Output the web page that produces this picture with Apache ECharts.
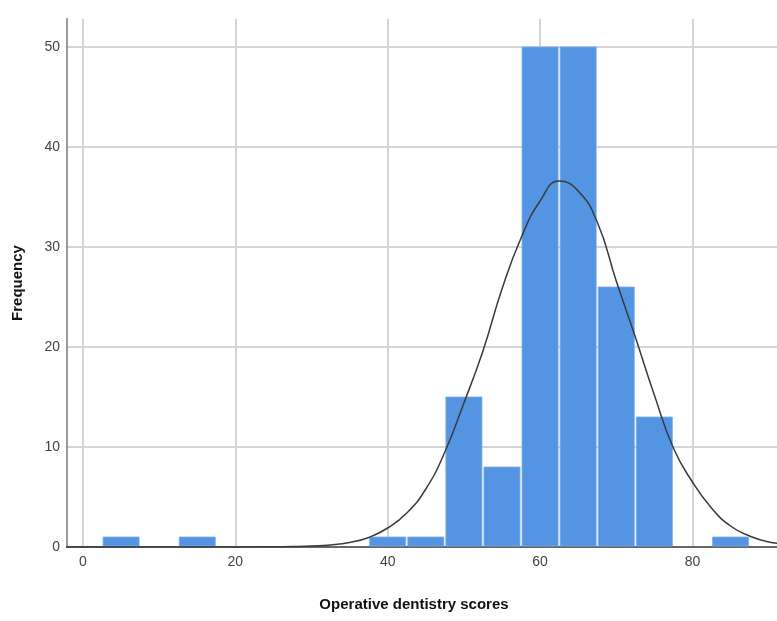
<!DOCTYPE html>
<html>
<head>
<meta charset="utf-8">
<script src="https://cdn.jsdelivr.net/npm/echarts@6/dist/echarts.min.js"></script>
<style>
  html, body { margin: 0; padding: 0; background: #ffffff; }
  #chart { width: 777px; height: 621px; }
</style>
</head>
<body>
<div id="chart"></div>
<script>
// Histogram bins (left edges) and counts
const binStarts = [2.5, 12.5, 37.5, 42.5, 47.5, 52.5, 57.5, 62.5, 67.5, 72.5, 82.5];
const frequencies = [1, 1, 1, 1, 15, 8, 50, 50, 26, 13, 1];
const binWidth = 5;

// Normal curve points (every 2.5 units)
const curveX = [-2.5, 0, 2.5, 5, 7.5, 10, 12.5, 15, 17.5, 20, 22.5, 25, 27.5, 30, 32.5, 35, 37.5, 40, 42.5, 45, 47.5, 50, 52.5, 55, 57.5, 60, 62.5, 65, 67.5, 70, 72.5, 75, 77.5, 80, 82.5, 85, 87.5, 90, 92.5];
const curveY = [0, 0, 0, 0, 0, 0, 0, 0, 0, 0, 0.01, 0.02, 0.05, 0.1, 0.2, 0.45, 0.95, 1.9, 3.4, 5.8, 9.5, 14.4, 19.6, 25.8, 30.9, 34.6, 36.6, 35.6, 32.5, 26.6, 21.0, 15.2, 9.9, 6.5, 3.9, 2.1, 1.1, 0.5, 0.3];

// Tick labels
const xTicks = [0, 20, 40, 60, 80];
const yTicks = [0, 10, 20, 30, 40, 50];

const barData = binStarts.map((s, i) => [s, s + binWidth, frequencies[i]]);
const curveData = curveX.map((x, i) => [x, curveY[i]]);

const chart = echarts.init(document.getElementById('chart'), null, { renderer: 'canvas' });

const labelFont = { fontFamily: 'Liberation Sans, Arial, sans-serif', fontSize: 14, color: '#444' };

chart.setOption({
  animation: false,
  backgroundColor: '#ffffff',
  grid: { left: 67, top: 19, right: 0, bottom: 74, containLabel: false },
  xAxis: {
    type: 'value',
    min: -2.1,
    max: 91.1,
    name: 'Operative dentistry scores',
    nameLocation: 'middle',
    nameGap: 50,
    nameTextStyle: { fontFamily: 'Liberation Sans, Arial, sans-serif', fontSize: 15, fontWeight: 'bold', color: '#111', padding: [0, 16, 0, 0] },
    axisLine: { show: true, onZero: false, lineStyle: { color: '#666', width: 2 } },
    axisTick: { show: false, customValues: xTicks },
    axisLabel: Object.assign({ customValues: xTicks, margin: 8 }, labelFont),
    splitLine: { show: true, lineStyle: { color: '#d4d4d4', width: 2 } }
  },
  yAxis: {
    type: 'value',
    min: 0,
    max: 52.8,
    name: 'Frequency',
    nameLocation: 'middle',
    nameGap: 42,
    nameTextStyle: { fontFamily: 'Liberation Sans, Arial, sans-serif', fontSize: 15, fontWeight: 'bold', color: '#111' },
    axisLine: { show: true, onZero: false, lineStyle: { color: '#9a9a9a', width: 2 } },
    axisTick: { show: false, customValues: yTicks },
    axisLabel: Object.assign({ customValues: yTicks, margin: 7 }, labelFont),
    splitLine: { show: true, lineStyle: { color: '#d4d4d4', width: 2 } }
  },
  series: [
    {
      type: 'custom',
      renderItem: function (params, api) {
        const p0 = api.coord([api.value(0), api.value(2)]);
        const p1 = api.coord([api.value(1), 0]);
        return {
          type: 'rect',
          shape: { x: p0[0] + 1, y: p0[1], width: p1[0] - p0[0] - 2, height: p1[1] - 1 - p0[1] },
          style: { fill: '#5495e3', stroke: '#7aaeea', lineWidth: 0.8 }
        };
      },
      encode: { x: [0, 1], y: 2 },
      data: barData,
      z: 2
    },
    {
      type: 'line',
      data: curveData,
      smooth: true,
      clip: true,
      showSymbol: false,
      symbol: 'none',
      lineStyle: { color: '#3a3a3a', width: 1.5 },
      z: 3
    }
  ]
});
</script>
</body>
</html>
